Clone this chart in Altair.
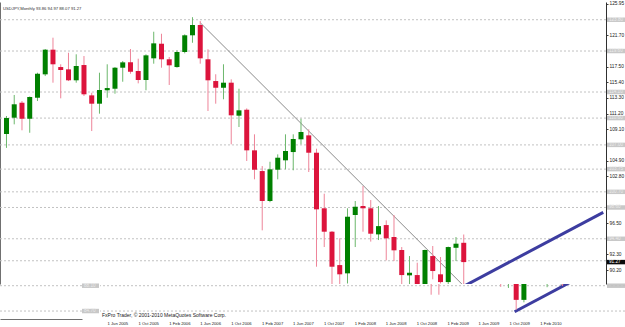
import json
import altair as alt
import pandas as pd

# ---------------- data ----------------
month_labels = pd.date_range("2005-06-01", "2010-05-01", freq="MS").strftime("%b %Y").tolist()

opens = [108.46, 110.65, 112.66, 110.51, 113.33, 116.47, 119.78, 117.45, 117.14, 115.67,
         117.72, 113.65, 112.53, 114.33, 114.54, 117.36, 118.08, 116.92, 115.71, 118.62,
         120.58, 118.49, 117.45, 119.47, 121.71, 123.09, 118.49, 115.57, 114.67, 115.35,
         110.92, 111.72, 106.27, 103.49, 99.47, 103.67, 104.93, 106.04, 107.75, 108.28,
         105.95, 98.49, 95.35, 90.87, 89.76, 97.59, 98.80, 98.49, 94.99, 96.24,
         94.64, 92.89, 89.49, 89.53, 86.20, 92.08, 89.63, 88.59, 93.19, 93.86]
highs = [110.88, 113.70, 112.89, 113.50, 116.69, 119.87, 121.39, 117.82, 119.37, 119.16,
         118.93, 114.00, 116.69, 117.82, 117.45, 118.26, 119.87, 118.57, 119.16, 122.19,
         121.92, 118.80, 119.69, 121.84, 124.14, 123.63, 119.83, 116.48, 117.82, 115.80,
         114.54, 111.90, 108.42, 104.16, 104.74, 105.73, 108.42, 108.42, 110.51, 109.09,
         106.49, 100.45, 95.44, 94.46, 98.49, 99.47, 101.48, 99.60, 98.80, 96.87,
         97.59, 93.29, 92.08, 91.19, 92.95, 93.43, 91.95, 93.35, 94.63, 94.97]
lows = [106.60, 109.76, 108.96, 108.63, 112.89, 116.24, 115.35, 113.25, 115.57, 115.35,
        113.56, 108.86, 111.19, 113.33, 113.87, 115.48, 116.55, 115.26, 114.33, 117.90,
        117.36, 115.04, 117.36, 119.29, 120.71, 117.90, 111.55, 112.53, 113.12, 107.08,
        109.40, 104.84, 102.38, 95.53, 99.30, 102.38, 103.72, 103.59, 107.08, 103.36,
        90.65, 93.29, 86.89, 86.89, 88.40, 93.29, 95.35, 94.02, 94.23, 91.50,
        91.41, 87.95, 87.80, 84.87, 85.87, 88.96, 88.40, 87.90, 91.41, 88.07]
closes = [110.61, 112.45, 110.51, 113.43, 116.55, 119.78, 117.82, 117.05, 115.67, 117.59,
          113.79, 112.53, 114.37, 114.63, 117.36, 118.08, 116.82, 115.71, 119.02, 120.63,
          118.49, 117.68, 119.47, 121.71, 123.09, 118.62, 115.67, 114.67, 115.35, 110.97,
          111.64, 106.27, 103.67, 99.47, 103.72, 105.28, 106.18, 107.79, 108.73, 105.95,
          98.35, 95.35, 90.65, 89.63, 97.36, 98.70, 98.49, 95.08, 96.10, 94.46,
          92.85, 89.53, 89.84, 86.20, 92.89, 90.07, 88.59, 93.29, 93.74, 91.27]

hline_levels = [123.80, 119.60, 114.10, 110.60, 107.00, 103.75, 100.70, 98.60, 94.40, 91.45, 88.10, 84.70]
box_levels = [123.80, 119.60, 114.10, 110.60, 107.00, 103.75, 100.70, 98.60, 94.40, 88.10, 84.70]
main_axis_ticks = [125.95, 121.70, 117.50, 115.40, 113.30, 111.20, 109.10, 104.90, 102.80, 96.50, 92.30, 90.20]
lower_axis_ticks = [86.00, 83.90]
bid_price = [91.27]

date_tick_idx = list(range(0, 57, 4))
date_tick_labels = ["1 " + month_labels[i] for i in date_tick_idx]

trend_idx = [25, 59]          # Jul 2007 -> May 2010
trend_prices = [123.40, 88.07]
channel_idx = [52.8, 77]      # Nov 2009 low -> Nov 2011
channel_prices = [84.60, 97.95]

header = "USDJPY,Monthly  93.86 94.97 88.07 91.27"
footer = "FxPro Trader, \u00a9 2001-2010 MetaQuotes Software Corp."

# ---------------- tables ----------------
candles = pd.DataFrame({"i": list(range(len(opens))), "month": month_labels,
                        "open": opens, "high": highs, "low": lows, "close": closes})
hlines = pd.DataFrame({"level": hline_levels})
boxes = pd.DataFrame({"level": box_levels})
bid = pd.DataFrame({"level": bid_price})
trend = pd.DataFrame({"i": trend_idx, "price": trend_prices})
channel = pd.DataFrame({"i": channel_idx, "price": channel_prices})
date_ticks = pd.DataFrame({"i": date_tick_idx, "label": date_tick_labels})

FONT = "Liberation Sans"
UP, DOWN = "#008000", "#dc143c"
UPW, DOWNW = "#6cb86c", "#ee8499"
BOX, BOXTXT = "#c8c8c8", "#ececec"
is_up = "datum.close >= datum.open"


def border_axis(orient):
    return alt.Axis(orient=orient, labels=False, ticks=False, grid=False, title=None,
                    domainColor="#707070", domainWidth=1, minExtent=0, maxExtent=0)


def build_layers(xs, ys, x_axis, y_hl_axis, y_body_axis):
    hl = alt.Chart(hlines).mark_rule(color="#c2c2c2", strokeDash=[2, 2], strokeWidth=1, clip=True).encode(
        y=alt.Y("level:Q", scale=ys, axis=y_hl_axis))
    tr = alt.Chart(trend).mark_line(color="#8a8a8a", strokeWidth=1, clip=True).encode(
        x=alt.X("i:Q", scale=xs, axis=None), y=alt.Y("price:Q", scale=ys, axis=None))
    ch = alt.Chart(channel).mark_line(color="#3d3da0", strokeWidth=3, clip=True).encode(
        x=alt.X("i:Q", scale=xs, axis=None), y=alt.Y("price:Q", scale=ys, axis=None))
    wick = alt.Chart(candles).mark_rule(strokeWidth=1, clip=True).encode(
        x=alt.X("i:Q", scale=xs, axis=None),
        y=alt.Y("low:Q", scale=ys, axis=None), y2="high:Q",
        color=alt.condition(is_up, alt.value(UPW), alt.value(DOWNW)))
    body = alt.Chart(candles).mark_bar(size=5, clip=True).encode(
        x=alt.X("i:Q", scale=xs, axis=x_axis),
        y=alt.Y("open:Q", scale=ys, axis=y_body_axis), y2="close:Q",
        color=alt.condition(is_up, alt.value(UP), alt.value(DOWN)))
    return [hl, tr, ch, wick, body]


# ---------------- main (upper) window ----------------
yT = alt.Scale(domain=[88.33, 126.18], zero=False, nice=False)
xT = alt.Scale(domain=[-0.19, 76.71], zero=False, nice=False)
right_axis_T = alt.Axis(orient="right", values=main_axis_ticks, format=".2f", grid=False, title=None,
                        labelFont=FONT, labelFontSize=4.8, labelColor="#202020", labelPadding=1,
                        tickSize=2, tickColor="#404040", domainColor="#303030",
                        minExtent=19, maxExtent=19, labelOverlap=False, labelFlush=False)
layersT = build_layers(xT, yT, border_axis("top"), border_axis("left"), right_axis_T)

boxT = alt.Chart(boxes).transform_filter("datum.level > 86").transform_calculate(
    lo="datum.level - 0.3", hi="datum.level + 0.3").mark_rect(
    color=BOX).encode(x=alt.value(607), x2=alt.value(625),
                      y=alt.Y("lo:Q", scale=yT, axis=None), y2="hi:Q")
boxTxtT = alt.Chart(boxes).transform_filter("datum.level > 88.6").mark_text(
    align="left", baseline="middle", font=FONT, fontSize=4.6, color=BOXTXT).encode(
    x=alt.value(609), y=alt.Y("level:Q", scale=yT, axis=None), text=alt.Text("level:Q", format=".2f"))
bidBox = alt.Chart(bid).transform_calculate(lo="datum.level - 0.3", hi="datum.level + 0.3").mark_rect(
    color="#0a0a0a").encode(x=alt.value(607), x2=alt.value(625),
                            y=alt.Y("lo:Q", scale=yT, axis=None), y2="hi:Q")
bidTxt = alt.Chart(bid).mark_text(align="left", baseline="middle", font=FONT, fontSize=4.6,
                                  color="#ffffff").encode(
    x=alt.value(609), y=alt.Y("level:Q", scale=yT, axis=None), text=alt.Text("level:Q", format=".2f"))
head = alt.Chart(pd.DataFrame({"t": [header]})).mark_text(
    align="left", baseline="middle", font=FONT, fontSize=4.2, color="#303030").encode(
    x=alt.value(3), y=alt.value(7), text="t:N")

top = alt.layer(*layersT, boxT, boxTxtT, bidBox, bidTxt, head).resolve_axis(y="independent").properties(
    width=606, height=282)

# ---------------- lower strip (shifted copy) ----------------
yS = alt.Scale(domain=[83.632, 88.33], zero=False, nice=False)
xB = alt.Scale(domain=[-0.19, 66.43], zero=False, nice=False)
xA = alt.Scale(domain=[66.43, 76.84], zero=False, nice=False)

date_axis = alt.Axis(orient="bottom", values=date_tick_idx, labels=False, grid=False, title=None,
                     tickSize=2, tickColor="#404040", domainColor="#505050")
layersB = build_layers(xB, yS, date_axis, None, border_axis("left"))
date_text = alt.Chart(date_ticks).mark_text(
    align="left", baseline="middle", font=FONT, fontSize=4.2, color="#202020", dx=1).encode(
    x=alt.X("i:Q", scale=xB, axis=None), y=alt.value(40), text="label:N")
foot = alt.Chart(pd.DataFrame({"t": [footer]})).mark_text(
    align="left", baseline="middle", font=FONT, fontSize=5, color="#202020").encode(
    x=alt.value(2), y=alt.value(31), text="t:N")
stripB = alt.layer(*layersB, date_text, foot).properties(width=525, height=35)

right_axis_A = alt.Axis(orient="right", values=lower_axis_ticks, format=".2f", grid=False, title=None,
                        labelFont=FONT, labelFontSize=4.8, labelColor="#202020", labelPadding=1,
                        tickSize=2, tickColor="#404040", domainColor="#303030",
                        minExtent=18, maxExtent=18, labelOverlap=False, labelFlush=False)
hlA = alt.Chart(hlines).mark_rule(color="#c2c2c2", strokeDash=[2, 2], strokeWidth=1, clip=True).encode(
    y=alt.Y("level:Q", scale=yS, axis=right_axis_A))
chA = alt.Chart(channel).mark_line(color="#3d3da0", strokeWidth=3, clip=True).encode(
    x=alt.X("i:Q", scale=xA, axis=border_axis("bottom")), y=alt.Y("price:Q", scale=yS, axis=None))
boxA = alt.Chart(boxes).transform_filter("datum.level < 88.6").transform_calculate(
    lo="datum.level - 0.3", hi="datum.level + 0.3").mark_rect(
    color=BOX).encode(x=alt.value(82), x2=alt.value(99),
                      y=alt.Y("lo:Q", scale=yS, axis=None), y2="hi:Q")
boxTxtA = alt.Chart(boxes).transform_filter("datum.level < 88.6").mark_text(
    align="left", baseline="middle", font=FONT, fontSize=4.6, color=BOXTXT).encode(
    x=alt.value(84), y=alt.Y("level:Q", scale=yS, axis=None), text=alt.Text("level:Q", format=".2f"))
stripA = alt.layer(hlA, chA, boxA, boxTxtA).properties(width=82, height=35)

strip = alt.hconcat(stripA, stripB, spacing=18, bounds="flush")

chart = alt.vconcat(top, strip, spacing=0, bounds="flush").configure_view(stroke=None).properties(
    padding={"left": 0, "top": 0, "right": 0, "bottom": 0}, background="#ffffff")

chart.save("out.html", embed_options={"renderer": "svg", "actions": False})
